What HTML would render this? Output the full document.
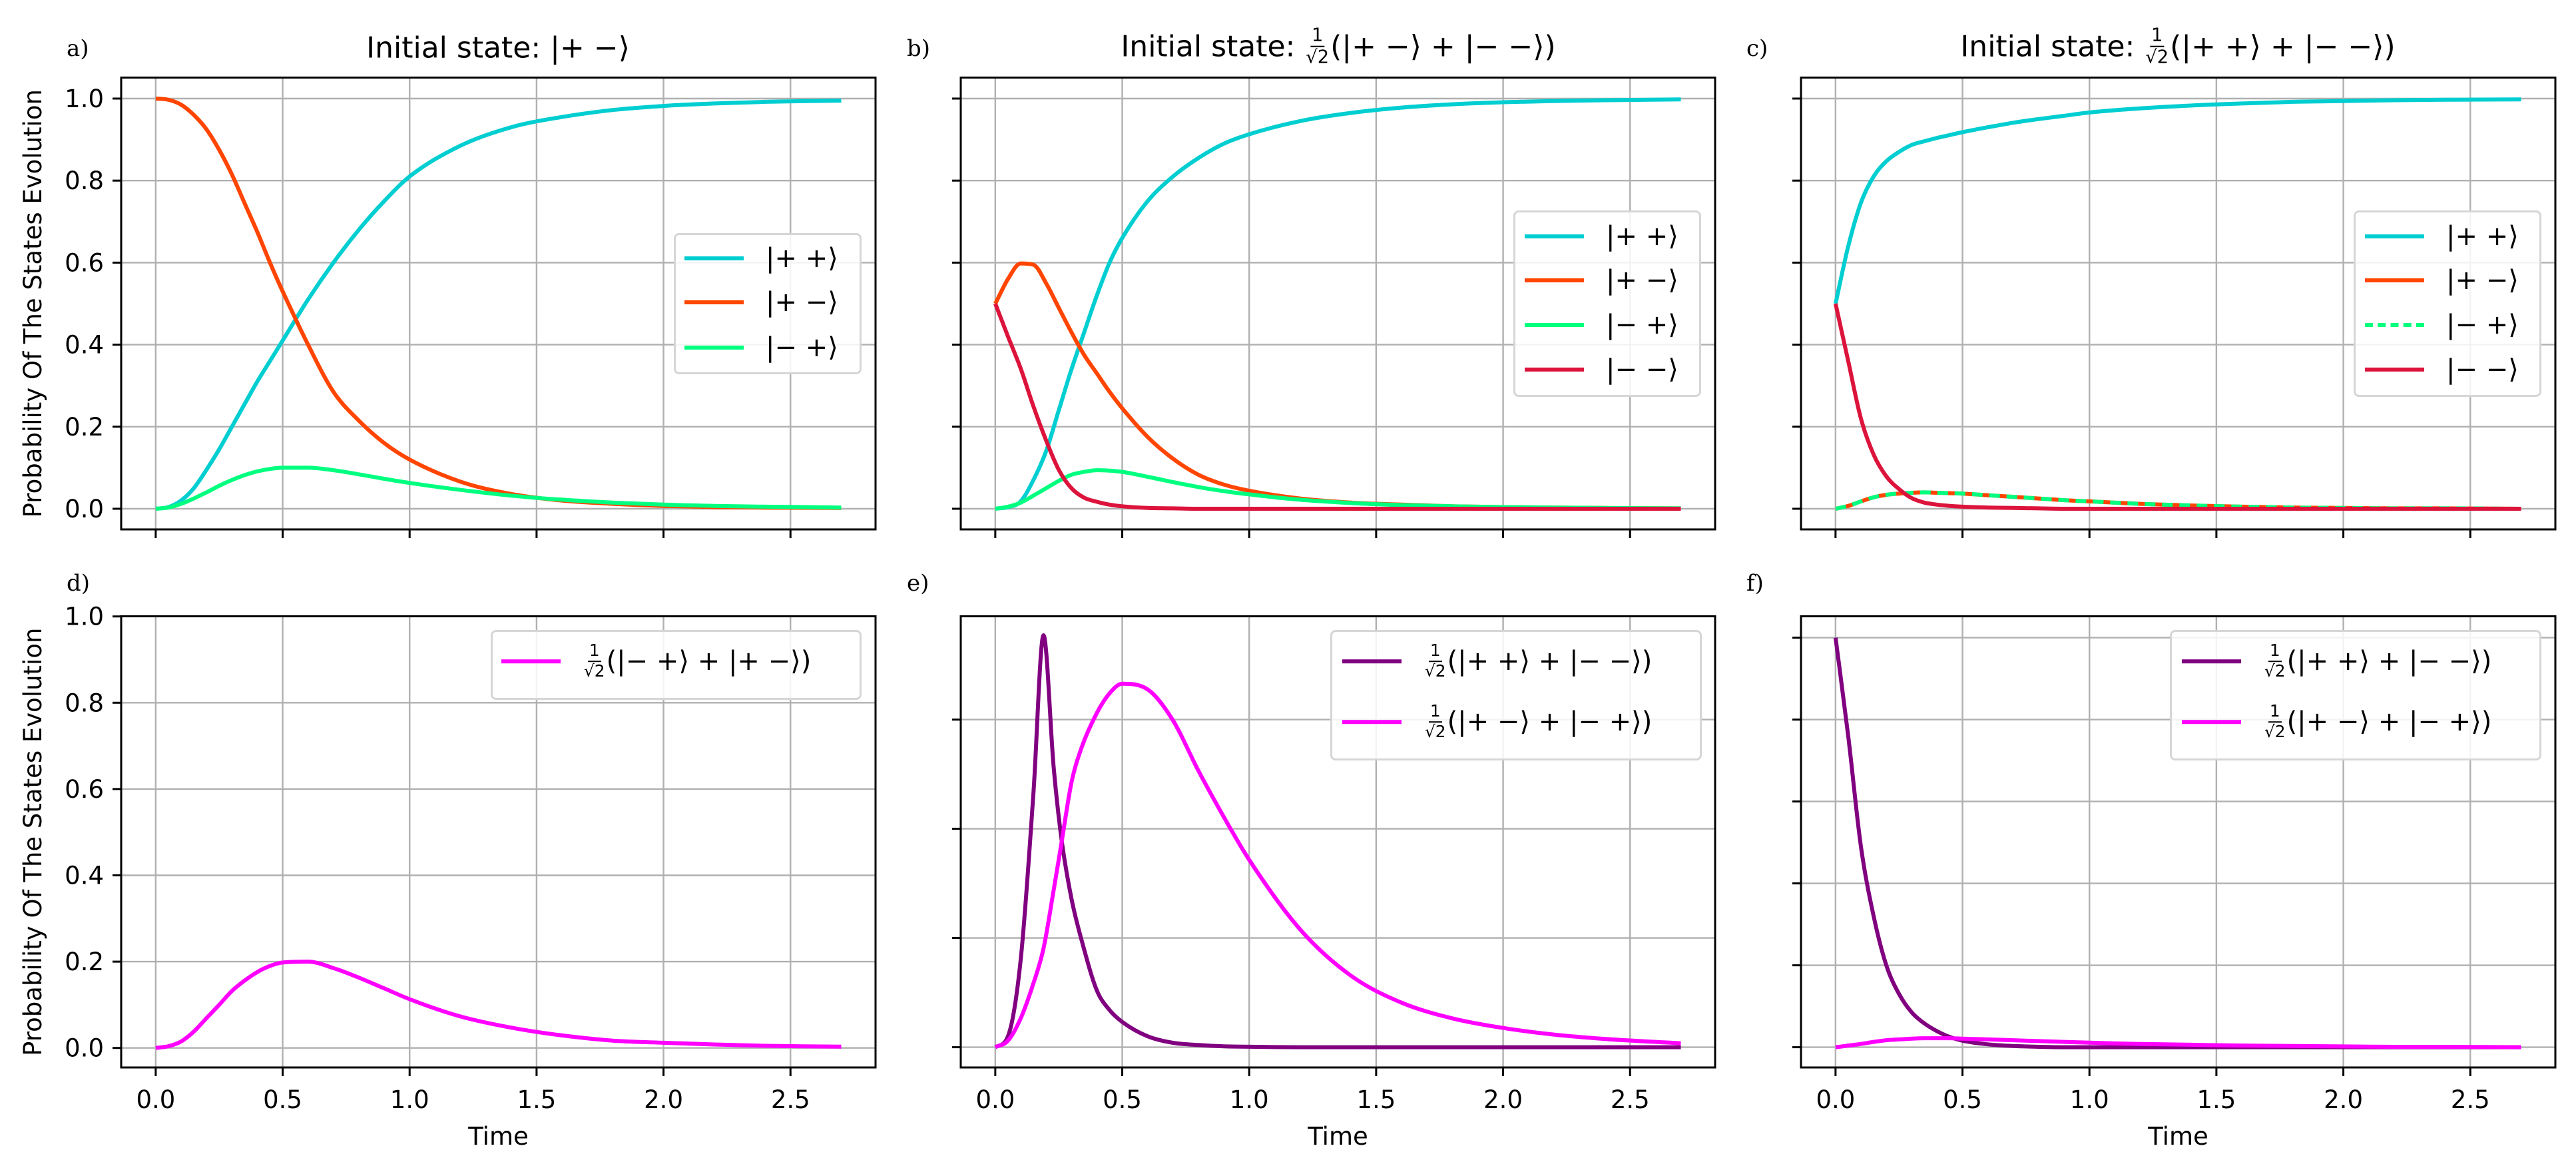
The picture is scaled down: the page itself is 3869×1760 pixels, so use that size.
<!DOCTYPE html>
<html><head><meta charset="utf-8">
<style>
html,body{margin:0;padding:0;background:#fff;}
#wrap{position:relative;width:3869px;height:1760px;overflow:hidden;font-family:"DejaVu Sans","Liberation Sans",sans-serif;}
svg{position:absolute;left:0;top:0;}
.title{position:absolute;font-size:44px;white-space:nowrap;transform:translate(-50%,-50%);display:flex;align-items:center;color:#000;}
.frac{display:inline-flex;flex-direction:column;align-items:center;line-height:1;margin:0 2px;}
.frac .n{font-size:0.62em;padding:0 2px 2px;border-bottom:2px solid #000;}
.frac .d{font-size:0.62em;padding-top:2px;}
.legend{position:absolute;background:rgba(255,255,255,0.85);border:3px solid #d6d6d6;border-radius:8px;box-sizing:border-box;}
.entry{position:absolute;left:0;display:flex;align-items:center;font-size:40px;white-space:nowrap;transform:translateY(-50%);}
.swatch{width:89px;height:0;border-top:6px solid;margin-right:33px;}
.letter{position:absolute;font-family:"DejaVu Serif","Liberation Serif",serif;font-size:34px;transform:translateY(-50%);}
</style></head>
<body>
<div id="wrap">
<svg id="chart" width="3869" height="1760" xmlns="http://www.w3.org/2000/svg"></svg>

<div class="letter" style="left:100px;top:73px">a)</div>
<div class="letter" style="left:1362px;top:73px">b)</div>
<div class="letter" style="left:2623px;top:73px">c)</div>
<div class="letter" style="left:100px;top:876px">d)</div>
<div class="letter" style="left:1362px;top:876px">e)</div>
<div class="letter" style="left:2623px;top:876px">f)</div>

<div class="title" style="left:748px;top:72px">Initial state: |+ −⟩</div>
<div class="title" style="left:2010px;top:70px">Initial state:&nbsp;<span class="frac"><span class="n">1</span><span class="d">√2</span></span>(|+ −⟩ + |− −⟩)</div>
<div class="title" style="left:3271px;top:70px">Initial state:&nbsp;<span class="frac"><span class="n">1</span><span class="d">√2</span></span>(|+ +⟩ + |− −⟩)</div>

<div class="legend" style="left:1012px;top:350px;width:282px;height:212px">
 <div class="entry" style="top:35px;left:13px"><span class="swatch" style="border-color:#00CED1"></span>|+ +⟩</div>
 <div class="entry" style="top:101px;left:13px"><span class="swatch" style="border-color:#FF4500"></span>|+ −⟩</div>
 <div class="entry" style="top:169px;left:13px"><span class="swatch" style="border-color:#00FF7F"></span>|− +⟩</div>
</div>
<div class="legend" style="left:2273px;top:316px;width:282px;height:280px">
 <div class="entry" style="top:36px;left:14px"><span class="swatch" style="border-color:#00CED1"></span>|+ +⟩</div>
 <div class="entry" style="top:102px;left:14px"><span class="swatch" style="border-color:#FF4500"></span>|+ −⟩</div>
 <div class="entry" style="top:169px;left:14px"><span class="swatch" style="border-color:#00FF7F"></span>|− +⟩</div>
 <div class="entry" style="top:236px;left:14px"><span class="swatch" style="border-color:#DC143C"></span>|− −⟩</div>
</div>
<div class="legend" style="left:3535px;top:316px;width:282px;height:280px">
 <div class="entry" style="top:36px;left:14px"><span class="swatch" style="border-color:#00CED1"></span>|+ +⟩</div>
 <div class="entry" style="top:102px;left:14px"><span class="swatch" style="border-color:#FF4500"></span>|+ −⟩</div>
 <div class="entry" style="top:169px;left:14px"><span class="swatch" style="border-color:#00FF7F;border-top-style:dashed"></span>|− +⟩</div>
 <div class="entry" style="top:236px;left:14px"><span class="swatch" style="border-color:#DC143C"></span>|− −⟩</div>
</div>
<div class="legend" style="left:737px;top:946px;width:557px;height:105px">
 <div class="entry" style="top:44px;left:13px"><span class="swatch" style="border-color:#FF00FF"></span><span class="frac"><span class="n">1</span><span class="d">√2</span></span>(|− +⟩ + |+ −⟩)</div>
</div>
<div class="legend" style="left:1998px;top:946px;width:558px;height:196px">
 <div class="entry" style="top:44px;left:15px"><span class="swatch" style="border-color:#800080"></span><span class="frac"><span class="n">1</span><span class="d">√2</span></span>(|+ +⟩ + |− −⟩)</div>
 <div class="entry" style="top:135px;left:15px"><span class="swatch" style="border-color:#FF00FF"></span><span class="frac"><span class="n">1</span><span class="d">√2</span></span>(|+ −⟩ + |− +⟩)</div>
</div>
<div class="legend" style="left:3259px;top:946px;width:558px;height:196px">
 <div class="entry" style="top:44px;left:15px"><span class="swatch" style="border-color:#800080"></span><span class="frac"><span class="n">1</span><span class="d">√2</span></span>(|+ +⟩ + |− −⟩)</div>
 <div class="entry" style="top:135px;left:15px"><span class="swatch" style="border-color:#FF00FF"></span><span class="frac"><span class="n">1</span><span class="d">√2</span></span>(|+ −⟩ + |− +⟩)</div>
</div>
</div>

<script>
// ---- data ----
const T = [0,0.05,0.1,0.15,0.2,0.25,0.3,0.35,0.4,0.45,0.5,0.6,0.7,0.8,0.9,1.0,1.2,1.4,1.6,1.8,2.0,2.2,2.4,2.7];
const T_E = [0,0.05,0.1,0.15,0.19,0.23,0.26,0.3,0.34,0.4,0.45,0.5,0.6,0.7,0.8,0.9,1.0,1.2,1.4,1.6,1.8,2.0,2.2,2.4,2.7];
const xTicks = [0,0.5,1.0,1.5,2.0,2.5];
const xTickLabels = ["0.0","0.5","1.0","1.5","2.0","2.5"];
const yTicks = [0,0.2,0.4,0.6,0.8,1.0];
const yTickLabels = ["0.0","0.2","0.4","0.6","0.8","1.0"];
const yTicksE = [0,0.25,0.5,0.75];

const a_pp = [0,0.004,0.02,0.05,0.095,0.145,0.2,0.255,0.31,0.36,0.41,0.51,0.6,0.68,0.75,0.81,0.885,0.93,0.955,0.972,0.982,0.988,0.992,0.995];
const a_pm = [1,0.997,0.985,0.96,0.925,0.875,0.815,0.745,0.675,0.6,0.53,0.4,0.285,0.215,0.16,0.12,0.066,0.036,0.02,0.012,0.007,0.004,0.003,0.002];
const a_mp = [0,0.003,0.012,0.025,0.04,0.056,0.07,0.082,0.091,0.097,0.1,0.1,0.094,0.084,0.073,0.063,0.046,0.032,0.022,0.015,0.01,0.007,0.005,0.003];

const b_pp = [0,0.004,0.018,0.07,0.14,0.24,0.34,0.43,0.52,0.6,0.66,0.75,0.81,0.855,0.89,0.913,0.945,0.965,0.978,0.986,0.991,0.994,0.996,0.998];
const b_pm = [0.5,0.56,0.598,0.595,0.55,0.49,0.43,0.375,0.33,0.285,0.245,0.175,0.122,0.083,0.059,0.044,0.025,0.015,0.01,0.006,0.004,0.003,0.002,0.001];
const b_mp = [0,0.005,0.015,0.032,0.05,0.068,0.083,0.09,0.094,0.093,0.09,0.078,0.065,0.053,0.043,0.035,0.022,0.014,0.009,0.006,0.004,0.003,0.002,0.001];
const b_mm = [0.5,0.42,0.342,0.25,0.167,0.095,0.05,0.027,0.017,0.01,0.006,0.002,0.001,0,0,0,0,0,0,0,0,0,0,0];

const c_pp = [0.5,0.64,0.746,0.81,0.847,0.87,0.887,0.896,0.904,0.911,0.918,0.93,0.941,0.95,0.958,0.966,0.976,0.983,0.988,0.992,0.994,0.996,0.997,0.998];
const c_pm = [0,0.007,0.018,0.028,0.034,0.037,0.039,0.04,0.039,0.038,0.037,0.033,0.029,0.025,0.021,0.018,0.012,0.008,0.005,0.003,0.002,0.001,0.001,0];
const c_mp = [0,0.007,0.018,0.028,0.034,0.037,0.039,0.04,0.039,0.038,0.037,0.033,0.029,0.025,0.021,0.018,0.012,0.008,0.005,0.003,0.002,0.001,0.001,0];
const c_mm = [0.5,0.36,0.22,0.132,0.079,0.048,0.026,0.015,0.01,0.007,0.005,0.003,0.002,0.001,0,0,0,0,0,0,0,0,0,0];

const d_bell_pm = [0,0.004,0.015,0.038,0.069,0.1,0.132,0.156,0.176,0.19,0.198,0.2,0.185,0.163,0.138,0.113,0.073,0.047,0.029,0.017,0.012,0.008,0.005,0.003];

const e_bell_pp = [0,0.025,0.2,0.58,0.943,0.64,0.48,0.34,0.245,0.13,0.085,0.058,0.025,0.01,0.005,0.002,0.001,0,0,0,0,0,0,0,0];
const e_bell_pm = [0,0.015,0.066,0.146,0.226,0.36,0.465,0.606,0.686,0.765,0.81,0.832,0.819,0.748,0.633,0.527,0.429,0.27,0.164,0.102,0.066,0.044,0.029,0.019,0.009];

const f_bell_pp = [1.0,0.76,0.49,0.32,0.2,0.13,0.085,0.058,0.039,0.025,0.016,0.007,0.003,0.001,0,0,0,0,0,0,0,0,0,0];
const f_bell_pm = [0,0.004,0.008,0.013,0.017,0.019,0.021,0.022,0.022,0.022,0.021,0.019,0.017,0.015,0.013,0.011,0.008,0.006,0.004,0.003,0.002,0.001,0.001,0];

// ---- layout ----
const NS = "http://www.w3.org/2000/svg";
const svg = document.getElementById('chart');
const W = 1133, XMIN = -0.136, XMAX = 2.835;
const panels = {
  a:{left:182, top:116.5, bottom:795, y0:764, k:616, yt:yTicks, ylab:true, xlab:false},
  b:{left:1443, top:116.5, bottom:795, y0:764, k:616, yt:yTicks, ylab:false, xlab:false},
  c:{left:2705, top:116.5, bottom:795, y0:764, k:616, yt:yTicks, ylab:false, xlab:false},
  d:{left:182, top:925.5, bottom:1603, y0:1573.7, k:648, yt:yTicks, ylab:true, xlab:true},
  e:{left:1443, top:925.5, bottom:1603, y0:1572.6, k:656, yt:yTicksE, ylab:false, xlab:true},
  f:{left:2705, top:925.5, bottom:1603, y0:1572.6, k:615, yt:yTicks, ylab:false, xlab:true}
};
function xs(p,t){ return p.left + (t - XMIN) / (XMAX - XMIN) * W; }
function ys(p,v){ return p.y0 - v * p.k; }
function mk(tag, attrs){ const e = document.createElementNS(NS, tag); for (const k in attrs) e.setAttribute(k, attrs[k]); svg.appendChild(e); return e; }

function monoPath(X, Y){
  const n = X.length; if (n < 2) return '';
  const d = [], m = [];
  for (let i=0;i<n-1;i++) d.push((Y[i+1]-Y[i])/(X[i+1]-X[i]));
  m[0]=d[0]; m[n-1]=d[n-2];
  for (let i=1;i<n-1;i++){ m[i] = (d[i-1]*d[i] <= 0) ? 0 : (d[i-1]+d[i])/2; }
  for (let i=0;i<n-1;i++){
    if (d[i]===0){ m[i]=0; m[i+1]=0; continue; }
    const a=m[i]/d[i], b=m[i+1]/d[i], s=a*a+b*b;
    if (s>9){ const tt=3/Math.sqrt(s); m[i]=tt*a*d[i]; m[i+1]=tt*b*d[i]; }
  }
  let p = 'M'+X[0].toFixed(1)+','+Y[0].toFixed(1);
  for (let i=0;i<n-1;i++){
    const h = X[i+1]-X[i];
    p += ' C'+(X[i]+h/3).toFixed(1)+','+(Y[i]+m[i]*h/3).toFixed(1)+' '+(X[i+1]-h/3).toFixed(1)+','+(Y[i+1]-m[i+1]*h/3).toFixed(1)+' '+X[i+1].toFixed(1)+','+Y[i+1].toFixed(1);
  }
  return p;
}

for (const key in panels){
  const p = panels[key];
  const clip = mk('clipPath', {id:'clip-'+key});
  const r = document.createElementNS(NS,'rect');
  r.setAttribute('x',p.left); r.setAttribute('y',p.top); r.setAttribute('width',W); r.setAttribute('height',p.bottom-p.top);
  clip.appendChild(r);
  xTicks.forEach((t,i)=>{
    const x = xs(p,t);
    const g = mk('line',{x1:x,x2:x,y1:p.top,y2:p.bottom,stroke:'#b0b0b0','stroke-width':2.4});
     
    const tk = mk('line',{x1:x,x2:x,y1:p.bottom,y2:p.bottom+13,stroke:'#000','stroke-width':3});
     
    if (p.xlab){
      const tx = mk('text',{x:x,y:1664,'text-anchor':'middle','font-size':37,'font-family':'DejaVu Sans, Liberation Sans, sans-serif'});
      tx.textContent = xTickLabels[i];
       
    }
  });
  p.yt.forEach((v,i)=>{
    const y = ys(p,v);
    const g = mk('line',{x1:p.left,x2:p.left+W,y1:y,y2:y,stroke:'#b0b0b0','stroke-width':2.4});
     
    const tk = mk('line',{x1:p.left-13,x2:p.left,y1:y,y2:y,stroke:'#000','stroke-width':3});
     
    if (p.ylab){
      const tx = mk('text',{x:p.left-26,y:y+13,'text-anchor':'end','font-size':37,'font-family':'DejaVu Sans, Liberation Sans, sans-serif'});
      tx.textContent = yTickLabels[i];
       
    }
  });
  if (p.xlab){
    const xt = mk('text',{x:p.left+W/2,y:1719,'text-anchor':'middle','font-size':37,'font-family':'DejaVu Sans, Liberation Sans, sans-serif'});
    xt.textContent = 'Time';
     
  }
  if (p.ylab){
    const cy = (p.top+p.bottom)/2;
    const yt = mk('text',{x:0,y:0,'text-anchor':'middle','font-size':37,transform:'translate(62,'+cy+') rotate(-90)','font-family':'DejaVu Sans, Liberation Sans, sans-serif'});
    yt.textContent = 'Probability Of The States Evolution';
     
  }
}

const series = [
  ['a',T,a_pp,'#00CED1',null,'line-a-pp'],
  ['a',T,a_pm,'#FF4500',null,'line-a-pm'],
  ['a',T,a_mp,'#00FF7F',null,'line-a-mp'],
  ['b',T,b_pp,'#00CED1',null,'line-b-pp'],
  ['b',T,b_pm,'#FF4500',null,'line-b-pm'],
  ['b',T,b_mp,'#00FF7F',null,'line-b-mp'],
  ['b',T,b_mm,'#DC143C',null,'line-b-mm'],
  ['c',T,c_pp,'#00CED1',null,'line-c-pp'],
  ['c',T,c_pm,'#FF4500',null,'line-c-pm'],
  ['c',T,c_mp,'#00FF7F','16,10','line-c-mp'],
  ['c',T,c_mm,'#DC143C',null,'line-c-mm'],
  ['d',T,d_bell_pm,'#FF00FF',null,'line-d-bell-pm'],
  ['e',T_E,e_bell_pp,'#800080',null,'line-e-bell-pp'],
  ['e',T_E,e_bell_pm,'#FF00FF',null,'line-e-bell-pm'],
  ['f',T,f_bell_pp,'#800080',null,'line-f-bell-pp'],
  ['f',T,f_bell_pm,'#FF00FF',null,'line-f-bell-pm']
];
series.forEach(s=>{
  const p = panels[s[0]];
  const X = s[1].map(t=>xs(p,t)), Y = s[2].map(v=>ys(p,v));
  const attrs = {d:monoPath(X,Y),fill:'none',stroke:s[3],'stroke-width':6,'stroke-linejoin':'round','clip-path':'url(#clip-'+s[0]+')'};
  if (s[4]) attrs['stroke-dasharray'] = s[4];
  const el = mk('path',attrs);
  
  
});

for (const key in panels){
  const p = panels[key];
  const fr = mk('rect',{x:p.left,y:p.top,width:W,height:p.bottom-p.top,fill:'none',stroke:'#000','stroke-width':3});
  
  
}
</script>
</body></html>
